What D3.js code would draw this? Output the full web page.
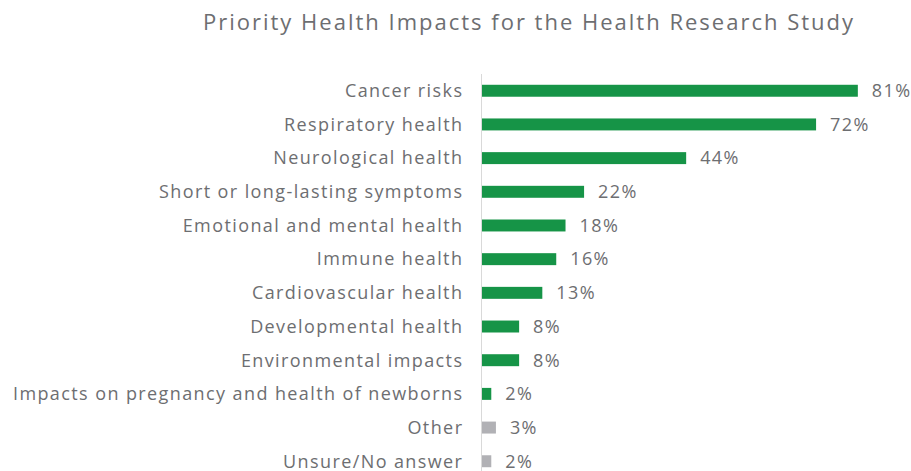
<!DOCTYPE html>
<html>
<head>
<meta charset="utf-8">
<script src="https://cdn.jsdelivr.net/npm/d3@7"></script>
<style>
  body { margin: 0; background: #fff; }
  svg { display: block; font-family: 'Open Sans', sans-serif; }
</style>
</head>
<body>
<div id="chart"></div>
<script>
const categories = [
  'Cancer risks',
  'Respiratory health',
  'Neurological health',
  'Short or long-lasting symptoms',
  'Emotional and mental health',
  'Immune health',
  'Cardiovascular health',
  'Developmental health',
  'Environmental impacts',
  'Impacts on pregnancy and health of newborns',
  'Other',
  'Unsure/No answer',
];
const values = [81, 72, 44, 22, 18, 16, 13, 8, 8, 2, 3, 2];
const groups = ['health', 'health', 'health', 'health', 'health', 'health', 'health', 'health', 'health', 'health', 'other', 'other'];

const width = 911;
const height = 471;
const margin = { left: 482 };

const svg = d3.select('#chart').append('svg').attr('width', width).attr('height', height);

// title
svg
  .append('text')
  .attr('x', 529)
  .attr('y', 30)
  .attr('text-anchor', 'middle')
  .attr('fill', '#6d6e71')
  .style('font-size', '22px')
  .style('letter-spacing', '2px')
  .text('Priority Health Impacts for the Health Research Study');

const x = d3.scaleLinear().domain([0, 100]).range([margin.left, margin.left + 464]);
const y = d3.scaleBand().domain(categories).range([74, 478]).paddingInner(0.645).paddingOuter(0.32);

const color = d3.scaleOrdinal().domain(['health', 'other']).range(['#169447', '#b1b1b5']);

// vertical axis line
svg
  .append('line')
  .attr('x1', margin.left - 0.5)
  .attr('x2', margin.left - 0.5)
  .attr('y1', 74)
  .attr('y2', height)
  .attr('stroke', '#d9d9d9')
  .attr('stroke-width', 1);

const rows = categories.map((c, i) => ({ c, v: values[i], g: groups[i] }));

svg
  .append('g')
  .selectAll('rect')
  .data(rows)
  .join('rect')
  .attr('x', x(0))
  .attr('y', (d) => y(d.c))
  .attr('width', (d) => x(d.v) - x(0))
  .attr('height', y.bandwidth())
  .attr('fill', (d) => color(d.g));

// category labels
svg
  .append('g')
  .selectAll('text')
  .data(rows)
  .join('text')
  .attr('x', 463.4)
  .attr('y', (d) => y(d.c) + y.bandwidth() / 2)
  .attr('dy', '0.35em')
  .attr('text-anchor', 'end')
  .attr('fill', '#6d6e71')
  .style('font-size', '18px')
  .style('letter-spacing', '1.4px')
  .text((d) => d.c);

// value labels
svg
  .append('g')
  .selectAll('text')
  .data(rows)
  .join('text')
  .attr('x', (d) => x(d.v) + 14)
  .attr('y', (d) => y(d.c) + y.bandwidth() / 2)
  .attr('dy', '0.35em')
  .attr('fill', '#6d6e71')
  .style('font-size', '18px')
  .style('letter-spacing', '1.4px')
  .text((d) => d.v + '%');
</script>
</body>
</html>
